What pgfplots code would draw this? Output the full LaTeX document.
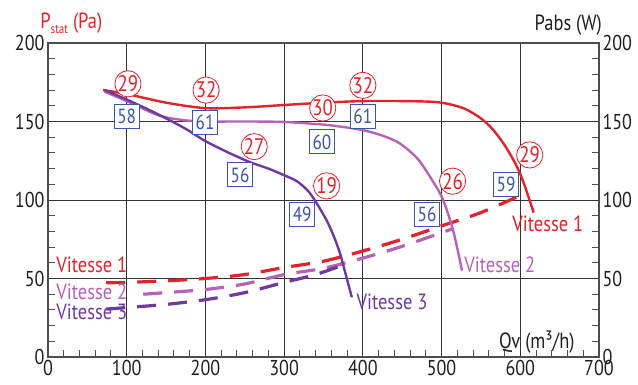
\documentclass[border=0pt]{standalone}
\usepackage{fontspec}
\setmainfont{PT Sans}[FakeStretch=0.84]
\usepackage{pgfplots}
\pgfplotsset{compat=1.18}
\definecolor{cred}{HTML}{E1242B}
\definecolor{cpink}{HTML}{B563B8}
\definecolor{cpurp}{HTML}{6E3A9E}
\definecolor{cblue}{HTML}{3B56A8}
\definecolor{cax}{HTML}{4D4D4D}
\begin{document}
\begin{tikzpicture}
\useasboundingbox (-48pt,-28pt) rectangle (590pt,357pt);
\begin{axis}[at={(0,0)}, anchor=south west, scale only axis,
  width=551pt, height=314pt,
  xmin=0, xmax=700, ymin=0, ymax=200,
  xtick={0,100,...,700}, ytick={0,50,...,200},
  minor x tick num=4, minor y tick num=4,
  grid=major, major grid style={black!80, line width=0.8pt},
  axis line style={cax, line width=1.5pt},
  xtick pos=bottom, ytick pos=both,
  tick align=inside, major tick length=0pt, minor tick length=7pt,
  minor tick style={cax, line width=1pt},
  tick label style={font=\fontsize{21.5}{23}\selectfont, text=black!88},
  /pgf/number format/assume math mode=true,
  clip=false]
% dashed power curves
\addplot[cred, line width=3.2pt, dash pattern=on 19pt off 12pt, smooth] coordinates {
 (74,47.3) (100,47.5) (150,48.5) (200,50) (250,52.5) (300,57) (350,61) (400,67.5) (450,75) (500,83.5) (550,92) (605,104)};
\addplot[cpink, line width=3.2pt, dash pattern=on 19pt off 12pt, smooth] coordinates {
 (121,40) (150,41) (200,43) (250,46.5) (300,52.5) (350,56.5) (400,63) (450,70.5) (513,81.5)};
\addplot[cpurp, line width=3.2pt, dash pattern=on 19pt off 12pt, smooth] coordinates {
 (74,30.5) (100,31.5) (150,33.5) (200,36.5) (250,41) (300,47.5) (340,52.5) (375,58.6)};
% pressure curves
\addplot[cred, line width=2.4pt, smooth] coordinates {
 (70,170) (100,167.5) (150,162) (200,158.5) (250,159) (300,160.5) (350,162) (400,163) (450,163) (490,162.5) (510,161) (530,158) (550,152) (565,145) (580,135) (595,122) (605,110) (617,92)};
\addplot[cpink, line width=2.4pt, smooth] coordinates {
 (72,169) (100,163) (140,154) (170,151) (200,150) (250,150) (300,149.7) (350,148) (375,146.5) (400,144.5) (425,141) (447,136) (470,126) (490,111) (502,100) (515,80) (526,55)};
\addplot[cpurp, line width=2.4pt, smooth] coordinates {
 (72,170) (100,164) (130,157) (150,152) (176,145) (200,137.5) (230,130) (257,124) (280,120) (299,116) (316,112) (330,106) (340,99) (354,87) (363,77) (371,66) (378,53) (386,38)};
% annotations
\tikzset{circ/.style={circle, draw=cred, text=cred, fill=white, line width=0.8pt, inner sep=0pt, minimum size=25pt, font=\fontsize{22.5}{24}\selectfont},
         boxn/.style={draw=cblue, text=cblue, fill=white, line width=0.9pt, inner sep=0pt, minimum height=24pt, minimum width=25pt, font=\fontsize{20.5}{22}\selectfont}}
\node[circ] at (axis cs:101.6,174) {29};
\node[circ] at (axis cs:200.8,170) {32};
\node[circ] at (axis cs:400,173) {32};
\node[circ] at (axis cs:349,158.6) {30};
\node[circ] at (axis cs:262,134) {27};
\node[circ] at (axis cs:354,109) {19};
\node[circ] at (axis cs:514,112) {26};
\node[circ] at (axis cs:612,128.7) {29};
\node[boxn] at (axis cs:100,153.5) {58};
\node[boxn] at (axis cs:199.5,149.7) {61};
\node[boxn] at (axis cs:400,153.5) {61};
\node[boxn] at (axis cs:348,137) {60};
\node[boxn] at (axis cs:244,116) {56};
\node[boxn] at (axis cs:323,91) {49};
\node[boxn] at (axis cs:481.6,91) {56};
\node[boxn] at (axis cs:582,110) {59};
% series labels
\tikzset{lab/.style={font=\fontsize{22}{24}\selectfont, inner sep=0pt}}
\node[lab, text=cred] at (axis cs:55.6,58.6) {Vitesse 1};
\node[lab, text=cpink] at (axis cs:55.6,41.4) {Vitesse 2};
\node[lab, text=cpurp] at (axis cs:55.6,28.7) {Vitesse 3};
\node[lab, text=cred] at (axis cs:635,85) {Vitesse 1};
\node[lab, text=cpink] at (axis cs:574,58.6) {Vitesse 2};
\node[lab, text=cpurp] at (axis cs:437,35) {Vitesse 3};
% axis titles
\node[lab, text=black!88] at (axis cs:621,9.5) {Qv (m³/h)};
\node[lab, text=black!88] at (axis cs:661,211.5) {Pabs (W)};
\node[lab, text=cred, anchor=base west] at (axis cs:-10,209.5) {P\raisebox{-0.5ex}{\fontsize{13}{14}\selectfont stat} (Pa)};
\end{axis}
\begin{axis}[at={(0,0)}, anchor=south west, scale only axis,
  width=551pt, height=314pt,
  xmin=0, xmax=700, ymin=0, ymax=200,
  hide x axis, axis y line*=right,
  ytick={0,50,...,200}, minor y tick num=4,
  axis line style={cax, line width=1.5pt},
  tick align=inside, major tick length=0pt, minor tick length=7pt,
  minor tick style={cax, line width=1pt},
  tick label style={font=\fontsize{21.5}{23}\selectfont, text=black!88},
  /pgf/number format/assume math mode=true]
\end{axis}
\end{tikzpicture}
\end{document}
